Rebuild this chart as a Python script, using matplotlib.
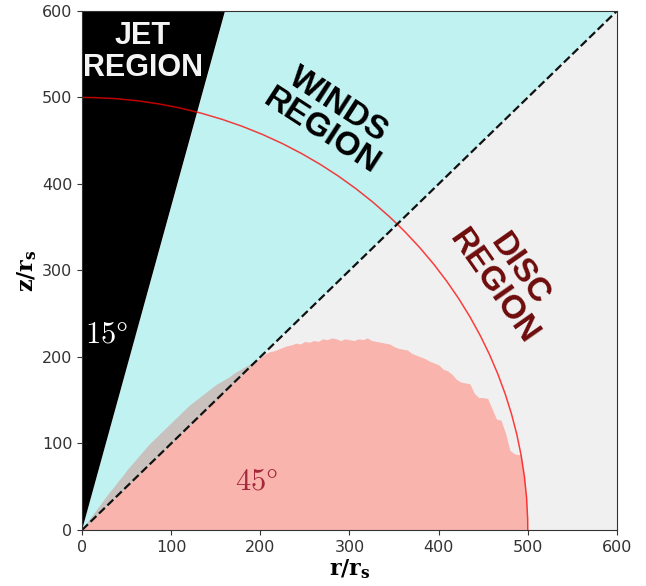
import numpy as np
import matplotlib
matplotlib.use('Agg')
from matplotlib import pyplot as plt
from matplotlib.patches import Arc, Circle

# angles of the region borders (deg from the z axis) and the sphere radius
jet_angle = 15
disc_angle = 45
radius = 500
axis_max = 600

# upper edge of the dense (pink) zone
blob_r = [0, 5, 10, 15, 20, 25, 30, 35, 40, 45, 50, 55, 60, 65, 70, 75, 80, 85, 90, 95,
          100, 105, 110, 115, 120, 125, 130, 135, 140, 145, 150, 155, 160, 165, 170, 175,
          180, 185, 190, 195, 200, 205, 210, 215, 220, 225, 230, 235, 240, 245, 250, 255,
          260, 265, 270, 275, 280, 285, 290, 295, 300, 305, 310, 315, 320, 325, 330, 335,
          340, 345, 350, 355, 360, 365, 370, 375, 380, 385, 390, 395, 400, 405, 410, 415,
          420, 425, 430, 435, 440, 445, 450, 455, 460, 465, 470, 475, 480, 485, 490, 495, 500]
blob_z = [0, 8, 15, 22, 29, 36, 43, 49, 56, 62, 69, 75, 81, 87, 93, 99, 104, 109, 114, 119,
          124, 129, 134, 139, 144, 148, 152, 156, 160, 164, 168, 171, 174, 177, 181, 184,
          187, 190, 193, 196, 199, 203, 206, 207, 209, 211, 213, 214, 216, 215, 218, 217,
          219, 218, 221, 220, 222, 221, 219, 221, 220, 219, 221, 220, 222, 219, 218, 217,
          216, 215, 212, 210, 209, 208, 204, 202, 200, 198, 195, 193, 191, 186, 184, 180,
          174, 171, 170, 169, 158, 153, 153, 152, 140, 128, 127, 112, 92, 88, 87, 87, 87]

plt.rcParams['mathtext.fontset'] = 'custom'
plt.rcParams['mathtext.rm'] = 'DejaVu Serif:bold'
plt.rcParams['mathtext.it'] = 'DejaVu Serif:bold'

fig = plt.figure(figsize=(6.46, 5.86), dpi=100)
ax = fig.add_axes([0.127, 0.0956, 0.828, 0.8857])

# the three regions
jet_top = axis_max * np.tan(np.radians(jet_angle))
disc_top = axis_max * np.tan(np.radians(disc_angle))
ax.fill([0, axis_max, axis_max], [0, disc_top, 0], color='#f0f0f0', lw=0)
ax.fill([0, jet_top, axis_max], [0, axis_max, disc_top], color='#c0f2f2', lw=0)
ax.fill([0, 0, jet_top], [0, axis_max, axis_max], color='black', lw=0)

# dense zone
r = np.array(blob_r)
z = np.array(blob_z)
diag = r * np.tan(np.radians(disc_angle))
blob = ax.fill_between(r, 0, np.minimum(z, diag), color='#f9b4ae', lw=0)
blob.set_clip_path(Circle((0, 0), radius, transform=ax.transData))
ax.fill_between(r, diag, z, where=z > diag, interpolate=True, color='#c9c1bd', lw=0)

ax.plot([0, axis_max], [0, disc_top], ls='--', color='#111111', lw=1.6)
ax.add_patch(Arc((0, 0), 2 * radius, 2 * radius, theta1=0, theta2=90,
                 color='red', lw=1.1, alpha=0.75))

# labels of the regions
ax.text(68, 553, 'JET\nREGION', color='#f4f4f4', fontsize=22, fontweight='bold',
        family='Liberation Sans', ha='center', va='center', linespacing=1.08)
ax.text(278, 476, 'WINDS\nREGION', color='black', fontsize=24, fontweight='bold',
        family='Liberation Sans', ha='center', va='center', rotation=-33,
        rotation_mode='anchor', linespacing=1.0)
ax.text(476, 291, 'DISC\nREGION', color='#6e0c0c', fontsize=24, fontweight='bold',
        family='Liberation Sans', ha='center', va='center', rotation=-55,
        rotation_mode='anchor', linespacing=1.0)
ax.text(3, 226, r'$15\degree$', color='white', fontsize=22, va='center',
        math_fontfamily='cm')
ax.text(172, 57, r'$45\degree$', color='#a3283c', fontsize=22, va='center',
        math_fontfamily='cm')

ax.set_xlim(0, axis_max)
ax.set_ylim(0, axis_max)
ax.set_xticks(range(0, axis_max + 1, 100))
ax.set_yticks(range(0, axis_max + 1, 100))
ax.tick_params(axis='both', which='major', labelsize=11.5, colors='#333333')
for s in ax.spines.values():
    s.set_color('#333333')
ax.set_xlabel(r'$\mathrm{r/r_s}$', fontsize=16, labelpad=2)
ax.set_ylabel(r'$\mathrm{z/r_s}$', fontsize=16, labelpad=2)

fig.savefig('out.png', dpi=100)
